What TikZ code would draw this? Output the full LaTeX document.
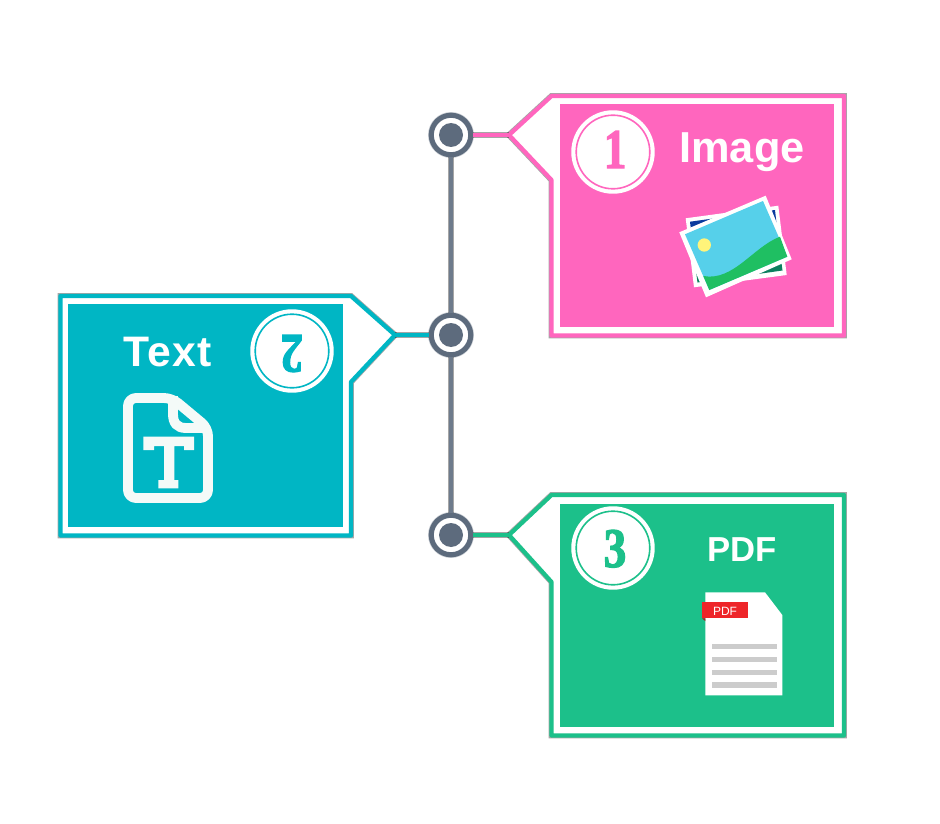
\documentclass[tikz,border=0pt]{standalone}
\usepackage{fontspec}
\setmainfont{Liberation Sans}
\newfontfamily\numfont[BoldFeatures={FakeStretch=.8,FakeBold=2.2}]{Liberation Serif}
\newfontfamily\spacedfont[LetterSpace=3]{Liberation Sans}
\definecolor{pinkc}{HTML}{FF66BE}
\definecolor{tealc}{HTML}{00B6C4}
\definecolor{greenc}{HTML}{1CC08A}
\definecolor{hubc}{HTML}{5D6B7D}
\definecolor{spinec}{HTML}{6E7B8C}
\definecolor{docc}{HTML}{F4FAF8}
\definecolor{skyc}{HTML}{56D0EA}
\definecolor{hillc}{HTML}{1FBF62}
\definecolor{sunc}{HTML}{FFF47A}
\definecolor{backblue}{HTML}{0A3A9E}
\definecolor{backgreen}{HTML}{0C7F5F}
\definecolor{tagred}{HTML}{EE2529}
\definecolor{tagdark}{HTML}{B01A1E}
\definecolor{linegray}{HTML}{CCCCCC}
\tikzset{
  soft/.style={preaction={draw,line width=#1,opacity=.35}},
  hub/.style={circle,draw=hubc,fill=white,line width=3.8pt,minimum size=29.6pt,inner sep=0pt,soft=4.8pt},
  hubdot/.style={circle,fill=hubc,minimum size=18pt,inner sep=0pt},
  spine/.style={draw=spinec,line width=3.4pt,soft=4.4pt},
  link/.style={line width=3.2pt,soft=4.4pt},
  callout/.style={line width=3.2pt,line join=round,fill=white,soft=4.4pt},
  badge/.style={circle,fill=white,minimum size=62.6pt,inner sep=0pt},
  badgering/.style={line width=1.2pt},
  num/.style={font=\numfont\bfseries\fontsize{42}{42}\selectfont,inner sep=0pt,anchor=base},
  title/.style={font=\bfseries\fontsize{32.5}{33}\selectfont,text=white,inner sep=0pt,anchor=base}
}
\begin{document}
\begin{tikzpicture}[x=.75pt,y=-.75pt]
\useasboundingbox (0,0) rectangle (940,824);
\fill[white] (0,0) rectangle (940,824);
% callouts
\coordinate (tip1) at (509,135);
\coordinate (tip2) at (395,335);
\coordinate (tip3) at (509,535);
\draw[callout,draw=pinkc] (551.5,96) -- (844,96) -- (844,335.5) -- (551.5,335.5) -- (551.5,180) -- (tip1) -- cycle;
\fill[pinkc] (560,104) rectangle (834,327);
\draw[callout,draw=tealc] (60.5,296) -- (351,296) -- (tip2) -- (351,382) -- (351,535.5) -- (60.5,535.5) -- cycle;
\fill[tealc] (68,304) rectangle (343,527);
\draw[callout,draw=greenc] (551.5,495) -- (844,495) -- (844,735.5) -- (551.5,735.5) -- (551.5,582) -- (tip3) -- cycle;
\fill[greenc] (560,504) rectangle (834,727);
% hubs
\node[hub] (hub1) at (451,135) {};
\node[hub] (hub2) at (451,335) {};
\node[hub] (hub3) at (451,535) {};
\node[hubdot] at (hub1) {};
\node[hubdot] at (hub2) {};
\node[hubdot] at (hub3) {};
\draw[spine] (hub1) -- (hub2);
\draw[spine] (hub2) -- (hub3);
\draw[link,draw=pinkc] (hub1) -- (tip1);
\draw[link,draw=tealc] (hub2) -- (tip2);
\draw[link,draw=greenc] (hub3) -- (tip3);
% badges
\node[badge] (b1) at (613,152) {};
\draw[badgering,draw=pinkc] (b1.center) circle (27.6pt);
\node[num,text=pinkc] (n1) at (615,168) {1};
\node[badge] (b2) at (292,351) {};
\draw[badgering,draw=tealc] (b2.center) circle (27.6pt);
\node[num,text=tealc,rotate=180] (n2) at (292,335) {2};
\node[badge] (b3) at (613,548) {};
\draw[badgering,draw=greenc] (b3.center) circle (27.6pt);
\node[num,text=greenc] (n3) at (615,567) {3};
% titles
\node[title] (t1) at (742,162) {Image};
\node[title,font=\spacedfont\bfseries\fontsize{32}{33}\selectfont] (t2) at (168,366) {Text};
\node[title,font=\bfseries\fontsize{26}{26}\selectfont] (t3) at (742,561.5) {PDF};
% photo icon
\fill[white] (685.7,218.3) -- (778.3,205.7) -- (786.7,275) -- (694,287.3) -- cycle;
\fill[backblue] (690,221.7) -- (775,210) -- (779,245) -- (694,256) -- cycle;
\fill[backgreen] (694,256) -- (779,245) -- (782.5,270.5) -- (697.5,282.5) -- cycle;
\fill[white] (679.3,232.3) -- (765.7,195.7) -- (791.7,259.3) -- (706,297.3) -- cycle;
\fill[skyc] (685,234.3) -- (763,201) -- (787.3,256.7) -- (709.3,290) -- cycle;
\fill[hillc] (703.3,276) .. controls (733.3,281.7) and (753.3,246.7) .. (780,236.7) -- (787.3,256.7) -- (709.3,290) -- cycle;
\fill[sunc] (704.3,245) circle (5pt);
% pdf icon
\fill[white] (705.3,592.3) -- (765,592.3) -- (782.3,615) -- (782.3,695.3) -- (705.3,695.3) -- cycle;
\fill[tagdark] (702,618.3) -- (705.3,621) -- (705.3,618.3) -- cycle;
\fill[tagred] (702,602.3) rectangle (748.3,618.3);
\node[inner sep=0pt,anchor=base,text=white,font=\fontsize{9}{9}\selectfont] (tag) at (725,615) {PDF};
\fill[linegray] (712,644) rectangle (777,649.3);
\fill[linegray] (712,657) rectangle (777,662.3);
\fill[linegray] (712,669.7) rectangle (777,675);
\fill[linegray] (712,682.3) rectangle (777,688);
% document icon
\draw[docc,line width=7.4pt,line join=round,rounded corners=6pt] (128,398) -- (172,398) -- (208,428) -- (208,498) -- (128,498) -- cycle;
\draw[docc,line width=7.4pt] (173,396) -- (173,414) .. controls (173,423) and (177,428) .. (186,428) -- (208,428);
\fill[docc] (143.3,436.7) -- (194,436.7) -- (194,450) -- (184,450) -- (184,446) -- (174.3,446) -- (174.3,480) -- (178.3,480) -- (178.3,488.3) -- (158.3,488.3) -- (158.3,480) -- (164,480) -- (164,446) -- (154,446) -- (154,450) -- (143.3,450) -- cycle;
\end{tikzpicture}
\end{document}
